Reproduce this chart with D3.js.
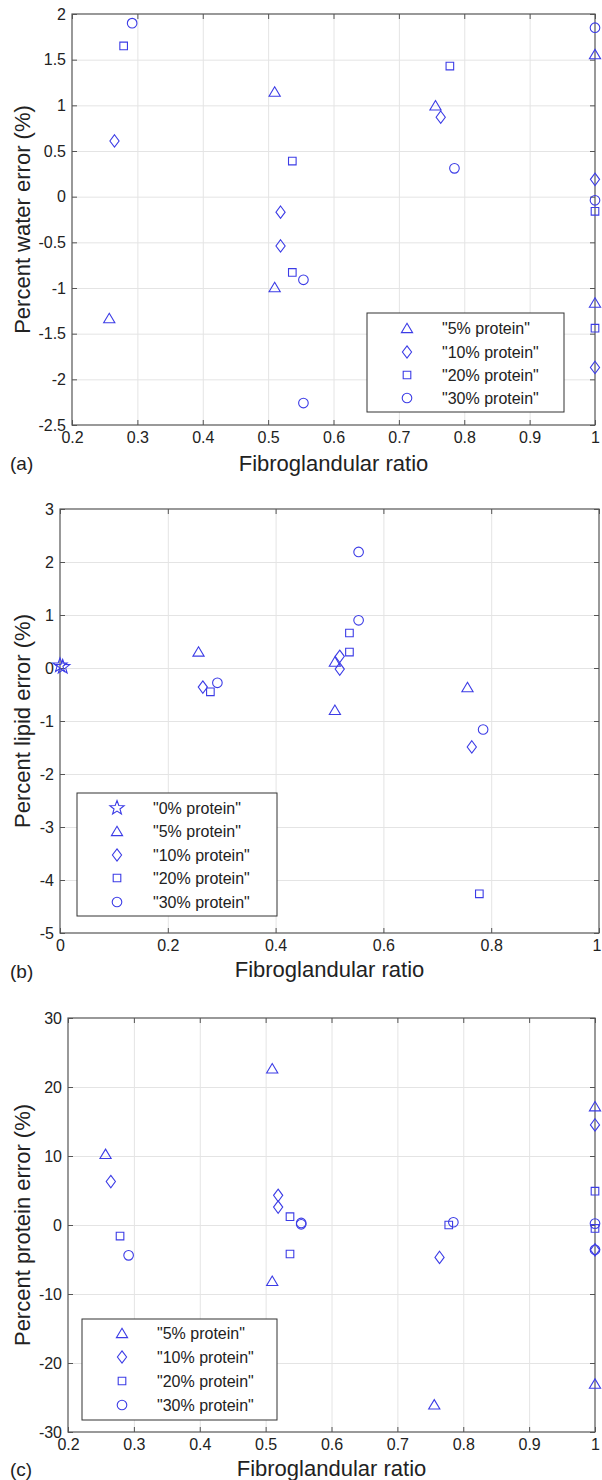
<!DOCTYPE html>
<html>
<head>
<meta charset="utf-8">
<script src="https://cdn.jsdelivr.net/npm/d3@7"></script>
<style>
  body { margin: 0; background: #fff; }
  text { font-family: "Liberation Sans", Arial, sans-serif; fill: #222; }
</style>
</head>
<body>
<div id="chart"></div>
<script>
// fibroglandular ratio of each phantom, per protein level
const ratio5 = [0.257, 0.510, 0.510, 0.756, 1, 1];
const ratio10 = [0.265, 0.519, 0.519, 0.764, 1, 1];
const ratio20 = [0.279, 0.537, 0.537, 0.778, 1, 1];
const ratio30 = [0.292, 0.554, 0.554, 0.785, 1, 1];

// (a) percent water error
const water5 = [-1.33, 1.15, -0.99, 1.00, 1.56, -1.16];
const water10 = [0.61, -0.17, -0.54, 0.87, 0.19, -1.87];
const water20 = [1.65, 0.39, -0.83, 1.43, -0.16, -1.44];
const water30 = [1.90, -0.91, -2.26, 0.31, 1.85, -0.04];

// (b) percent lipid error (no lipid at ratio 1)
const ratio0 = [0, 0.005];
const lipid0 = [0.05, 0.02];
const lipid5 = [0.31, 0.12, -0.79, -0.36];
const lipid10 = [-0.36, 0.22, -0.02, -1.49];
const lipid20 = [-0.45, 0.30, 0.66, -4.26];
const lipid30 = [-0.28, 2.19, 0.90, -1.16];

// (c) percent protein error
const protein5 = [10.3, 22.7, -8.1, -26.0, 17.2, -23.0];
const protein10 = [6.3, 4.3, 2.6, -4.7, 14.5, -3.6];
const protein20 = [-1.6, 1.2, -4.2, 0.0, 4.9, -0.5];
const protein30 = [-4.4, 0.3, 0.1, 0.4, 0.2, -3.6];

const legendNames = ['"0% protein"', '"5% protein"', '"10% protein"', '"20% protein"', '"30% protein"'];

// tick values (labels are the values themselves)
const xTicksFine = [0.2, 0.3, 0.4, 0.5, 0.6, 0.7, 0.8, 0.9, 1];
const xTicksCoarse = [0, 0.2, 0.4, 0.6, 0.8, 1];
const yTicksWater = [-2.5, -2, -1.5, -1, -0.5, 0, 0.5, 1, 1.5, 2];
const yTicksLipid = [-5, -4, -3, -2, -1, 0, 1, 2, 3];
const yTicksProtein = [-30, -20, -10, 0, 10, 20, 30];

const blue = "#3c3ce6";
const width = 602, height = 1480;

function zip(xs, ys) {
  return ys.map((y, i) => ({ x: xs[i], y: y }));
}

// marker shapes drawn around (0,0)
const markers = {
  star: function () {
    let p = "";
    for (let i = 0; i < 10; i++) {
      const r = i % 2 === 0 ? 7.5 : 3.1;
      const a = -Math.PI / 2 + i * Math.PI / 5;
      p += (i === 0 ? "M" : "L") + (r * Math.cos(a)).toFixed(2) + "," + (r * Math.sin(a)).toFixed(2);
    }
    return p + "Z";
  },
  triangle: () => "M0,-4.8L5.6,4.6L-5.6,4.6Z",
  diamond: () => "M0,-6.2L4.6,0L0,6.2L-4.6,0Z",
  square: () => "M-3.8,-3.8h7.6v7.6h-7.6Z",
  circle: () => "M4.8,0A4.8,4.8 0 1 1 -4.8,0A4.8,4.8 0 1 1 4.8,0Z"
};

const panels = [
  {
    tag: "(a)", left: 72, right: 595, top: 14, bottom: 425,
    xDomain: [0.2, 1], yDomain: [-2.5, 2], xTicks: xTicksFine, yTicks: yTicksWater,
    yLabel: "Percent water error (%)", xLabelY: 471, tagY: 470,
    legend: { x: 367, y: 313, w: 197, h: 99, rows: [328, 352, 375, 398], mx: 407, tx: 442 },
    series: [
      { name: legendNames[1], shape: "triangle", pts: zip(ratio5, water5) },
      { name: legendNames[2], shape: "diamond", pts: zip(ratio10, water10) },
      { name: legendNames[3], shape: "square", pts: zip(ratio20, water20) },
      { name: legendNames[4], shape: "circle", pts: zip(ratio30, water30) }
    ]
  },
  {
    tag: "(b)", left: 60, right: 599, top: 509, bottom: 933,
    xDomain: [0, 1], yDomain: [-5, 3], xTicks: xTicksCoarse, yTicks: yTicksLipid,
    yLabel: "Percent lipid error (%)", xLabelY: 977, tagY: 978,
    legend: { x: 77, y: 793, w: 200, h: 123, rows: [808, 831, 855, 878, 902], mx: 117, tx: 153 },
    series: [
      { name: legendNames[0], shape: "star", pts: zip(ratio0, lipid0) },
      { name: legendNames[1], shape: "triangle", pts: zip(ratio5, lipid5) },
      { name: legendNames[2], shape: "diamond", pts: zip(ratio10, lipid10) },
      { name: legendNames[3], shape: "square", pts: zip(ratio20, lipid20) },
      { name: legendNames[4], shape: "circle", pts: zip(ratio30, lipid30) }
    ]
  },
  {
    tag: "(c)", left: 68, right: 595, top: 1018, bottom: 1432,
    xDomain: [0.2, 1], yDomain: [-30, 30], xTicks: xTicksFine, yTicks: yTicksProtein,
    yLabel: "Percent protein error (%)", xLabelY: 1476, tagY: 1476,
    legend: { x: 82, y: 1319, w: 195, h: 101, rows: [1333, 1357, 1381, 1405], mx: 122, tx: 157 },
    series: [
      { name: legendNames[1], shape: "triangle", pts: zip(ratio5, protein5) },
      { name: legendNames[2], shape: "diamond", pts: zip(ratio10, protein10) },
      { name: legendNames[3], shape: "square", pts: zip(ratio20, protein20) },
      { name: legendNames[4], shape: "circle", pts: zip(ratio30, protein30) }
    ]
  }
];

const svg = d3.select("#chart")
  .append("svg")
  .attr("width", width)
  .attr("height", height);

panels.forEach(function (p) {
  const x = d3.scaleLinear().domain(p.xDomain).range([p.left, p.right]);
  const y = d3.scaleLinear().domain(p.yDomain).range([p.bottom, p.top]);
  const fmt = d => String(d);
  const g = svg.append("g");

  // grid
  const innerX = p.xTicks.filter(t => t !== p.xDomain[0] && t !== p.xDomain[1]);
  const innerY = p.yTicks.filter(t => t !== p.yDomain[0] && t !== p.yDomain[1]);
  g.append("g")
    .attr("transform", "translate(0," + p.bottom + ")")
    .call(d3.axisBottom(x).tickValues(innerX).tickSize(-(p.bottom - p.top)).tickFormat(""))
    .call(s => s.select(".domain").remove())
    .selectAll("line").attr("stroke", "#e4e4e4");
  g.append("g")
    .attr("transform", "translate(" + p.left + ",0)")
    .call(d3.axisLeft(y).tickValues(innerY).tickSize(-(p.right - p.left)).tickFormat(""))
    .call(s => s.select(".domain").remove())
    .selectAll("line").attr("stroke", "#e4e4e4");

  // axes with inward ticks on all four sides
  const bottomAxis = g.append("g")
    .attr("transform", "translate(0," + p.bottom + ")")
    .call(d3.axisBottom(x).tickValues(p.xTicks).tickSize(-5).tickSizeOuter(0).tickPadding(7).tickFormat(fmt));
  const leftAxis = g.append("g")
    .attr("transform", "translate(" + p.left + ",0)")
    .call(d3.axisLeft(y).tickValues(p.yTicks).tickSize(-5).tickSizeOuter(0).tickPadding(6).tickFormat(fmt));
  const topAxis = g.append("g")
    .attr("transform", "translate(0," + p.top + ")")
    .call(d3.axisTop(x).tickValues(p.xTicks).tickSize(-5).tickSizeOuter(0).tickFormat(""));
  const rightAxis = g.append("g")
    .attr("transform", "translate(" + p.right + ",0)")
    .call(d3.axisRight(y).tickValues(p.yTicks).tickSize(-5).tickSizeOuter(0).tickFormat(""));

  [bottomAxis, leftAxis, topAxis, rightAxis].forEach(a => {
    a.select(".domain").remove();
    a.selectAll("line").attr("stroke", "#555");
    a.selectAll("text")
      .attr("font-family", "Liberation Sans, Arial, sans-serif")
      .attr("font-size", 16)
      .attr("fill", "#222");
  });

  // keep the last x tick label inside the page
  bottomAxis.selectAll(".tick").each(function (d) {
    const t = d3.select(this).select("text");
    const xr = x(d) + this.querySelector("text").getBBox().width / 2;
    if (xr > width - 1) t.attr("dx", (width - 1 - xr).toFixed(1));
  });

  g.append("rect")
    .attr("x", p.left).attr("y", p.top)
    .attr("width", p.right - p.left).attr("height", p.bottom - p.top)
    .attr("fill", "none").attr("stroke", "#555").attr("stroke-width", 1.2);

  // markers
  p.series.forEach(function (s) {
    g.selectAll(null)
      .data(s.pts)
      .enter().append("path")
      .attr("d", markers[s.shape]())
      .attr("transform", d => "translate(" + x(d.x) + "," + y(d.y) + ")")
      .attr("fill", "none")
      .attr("stroke", blue)
      .attr("stroke-width", 1.1);
  });

  // legend
  const lg = g.append("g");
  lg.append("rect")
    .attr("x", p.legend.x).attr("y", p.legend.y)
    .attr("width", p.legend.w).attr("height", p.legend.h)
    .attr("fill", "#fff").attr("stroke", "#333").attr("stroke-width", 1);
  p.series.forEach(function (s, i) {
    const ry = p.legend.rows[i];
    lg.append("path")
      .attr("d", markers[s.shape]())
      .attr("transform", "translate(" + p.legend.mx + "," + ry + ")")
      .attr("fill", "none").attr("stroke", blue).attr("stroke-width", 1.1);
    lg.append("text")
      .attr("x", p.legend.tx).attr("y", ry + 6)
      .attr("font-size", 16)
      .text(s.name);
  });

  // labels
  g.append("text")
    .attr("x", (p.left + p.right) / 2).attr("y", p.xLabelY)
    .attr("text-anchor", "middle")
    .attr("font-size", 22)
    .text("Fibroglandular ratio");
  g.append("text")
    .attr("transform", "translate(30," + (p.top + p.bottom) / 2 + ") rotate(-90)")
    .attr("text-anchor", "middle")
    .attr("font-size", 22)
    .text(p.yLabel);
  g.append("text")
    .attr("x", 10).attr("y", p.tagY)
    .attr("font-size", 19)
    .text(p.tag);
});
</script>
</body>
</html>
